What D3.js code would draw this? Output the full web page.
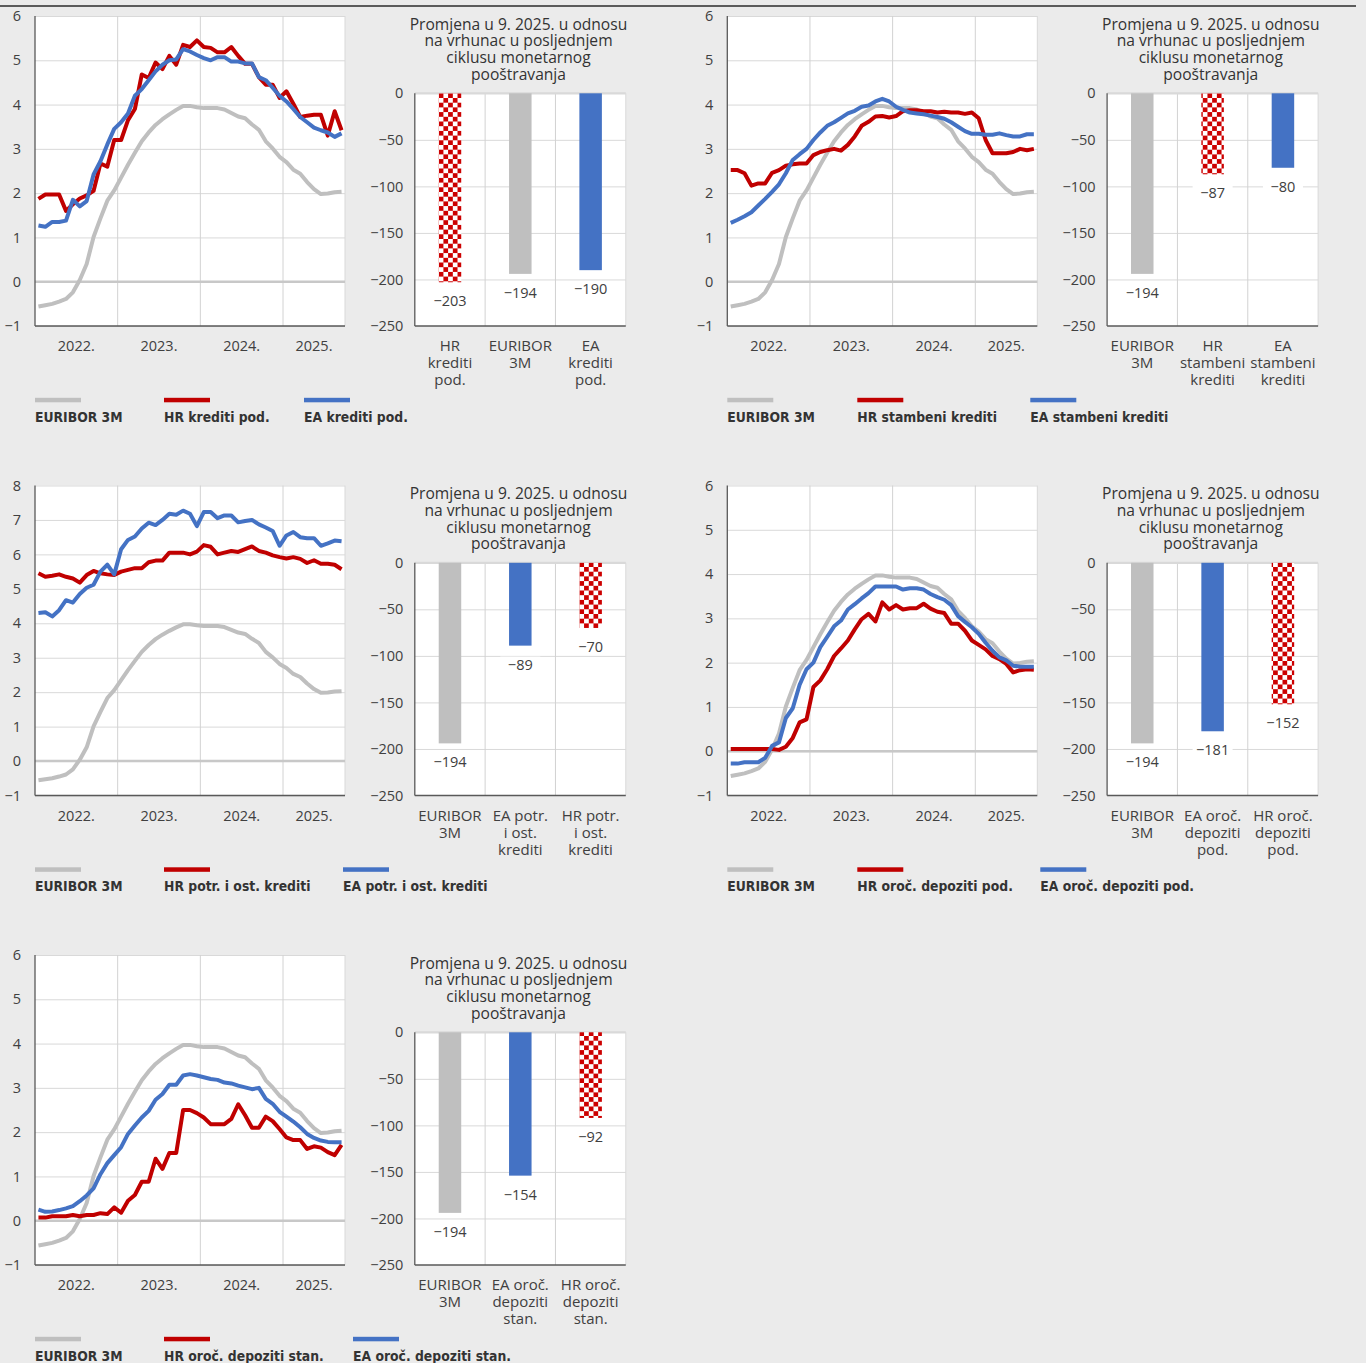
<!DOCTYPE html>
<html>
<head>
<meta charset="utf-8">
<script src="https://cdn.jsdelivr.net/npm/d3@7"></script>
<style>
  html, body { margin: 0; padding: 0; background: #ebebeb; }
  svg { display: block; }
  text { font-family: "Open Sans", "Noto Sans", sans-serif; fill: #404040; }
  .title { fill: #333; font-size: 15.6px; }
  .leg { font-family: "Liberation Sans Narrow", "DejaVu Sans Condensed", "Roboto Condensed", sans-serif; font-weight: bold; font-size: 13.8px; fill: #333; }
</style>
</head>
<body>
<script>
// Monthly observations, January 2022 – September 2025
const months = [
  "1/2022","2/2022","3/2022","4/2022","5/2022","6/2022","7/2022","8/2022","9/2022","10/2022","11/2022","12/2022",
  "1/2023","2/2023","3/2023","4/2023","5/2023","6/2023","7/2023","8/2023","9/2023","10/2023","11/2023","12/2023",
  "1/2024","2/2024","3/2024","4/2024","5/2024","6/2024","7/2024","8/2024","9/2024","10/2024","11/2024","12/2024",
  "1/2025","2/2025","3/2025","4/2025","5/2025","6/2025","7/2025","8/2025","9/2025"
];
const years = ["2022", "2023", "2024", "2025"];

// EURIBOR 3M (%), same in every panel
const euribor3m = [-0.56,-0.53,-0.50,-0.45,-0.39,-0.24,0.04,0.40,1.01,1.43,1.83,2.06,
  2.35,2.64,2.91,3.17,3.37,3.54,3.67,3.78,3.88,3.97,3.97,3.94,
  3.92,3.92,3.92,3.89,3.81,3.73,3.69,3.55,3.43,3.17,3.01,2.82,
  2.70,2.53,2.44,2.25,2.09,1.98,1.99,2.02,2.03];

// Loans to non-financial corporations (%)
const hrKreditiPod = [1.87,1.97,1.97,1.97,1.60,1.75,1.88,1.95,2.05,2.67,2.60,3.20,3.20,3.65,3.90,4.68,4.60,4.95,4.80,5.10,
  4.90,5.35,5.30,5.45,5.30,5.28,5.18,5.18,5.30,5.10,4.92,4.92,4.62,4.45,4.45,4.15,4.30,4.02,3.72,3.75,3.77,3.77,3.30,3.85,3.42];
const eaKreditiPod = [1.27,1.24,1.35,1.35,1.38,1.85,1.70,1.82,2.42,2.72,3.10,3.45,3.60,3.80,4.20,4.35,4.55,4.75,4.90,5.00,
  5.02,5.25,5.20,5.12,5.05,5.00,5.07,5.07,4.97,4.97,4.93,4.93,4.62,4.55,4.38,4.20,4.07,3.90,3.72,3.60,3.48,3.42,3.37,3.27,3.35];

// Housing loans (%)
const hrStambeni = [2.52,2.52,2.45,2.17,2.22,2.22,2.46,2.52,2.62,2.65,2.67,2.67,2.86,2.93,2.97,3.00,2.96,3.09,3.28,3.52,
  3.61,3.73,3.74,3.71,3.74,3.85,3.87,3.87,3.85,3.85,3.82,3.84,3.82,3.82,3.79,3.82,3.69,3.20,2.90,2.90,2.90,2.93,3.00,2.97,3.00];
const eaStambeni = [1.33,1.40,1.48,1.57,1.72,1.87,2.03,2.20,2.45,2.75,2.88,3.00,3.20,3.37,3.52,3.60,3.70,3.80,3.86,3.95,
  3.98,4.07,4.13,4.07,3.95,3.88,3.82,3.80,3.78,3.75,3.72,3.68,3.60,3.50,3.40,3.34,3.34,3.32,3.32,3.35,3.31,3.28,3.28,3.33,3.33];

// Consumer and other loans (%)
const hrPotr = [5.45,5.35,5.38,5.42,5.35,5.30,5.18,5.40,5.52,5.45,5.42,5.40,5.50,5.55,5.60,5.60,5.77,5.82,5.82,6.05,
  6.05,6.05,6.00,6.08,6.27,6.22,6.00,6.05,6.10,6.07,6.15,6.23,6.10,6.05,5.97,5.92,5.88,5.92,5.87,5.75,5.83,5.73,5.73,5.70,5.57];
const eaPotr = [4.30,4.32,4.20,4.38,4.67,4.60,4.85,5.03,5.12,5.50,5.70,5.42,6.15,6.42,6.52,6.75,6.92,6.85,7.00,7.18,
  7.15,7.27,7.18,6.82,7.23,7.23,7.05,7.13,7.13,6.93,6.97,7.00,6.87,6.78,6.68,6.25,6.55,6.65,6.50,6.47,6.47,6.25,6.32,6.40,6.38];

// Time deposits of non-financial corporations (%)
const hrOrocPod = [0.05,0.05,0.05,0.05,0.05,0.05,0.05,0.03,0.10,0.30,0.65,0.72,1.45,1.60,1.85,2.15,2.32,2.50,2.75,2.98,
  3.10,2.93,3.36,3.20,3.30,3.20,3.23,3.23,3.33,3.22,3.15,3.12,2.88,2.88,2.72,2.50,2.40,2.30,2.15,2.08,1.97,1.78,1.83,1.85,1.84];
const eaOrocPod = [-0.28,-0.28,-0.25,-0.25,-0.25,-0.15,0.12,0.20,0.75,0.97,1.50,1.85,2.00,2.35,2.58,2.82,2.95,3.20,3.32,3.45,
  3.57,3.72,3.72,3.72,3.72,3.65,3.68,3.68,3.65,3.55,3.48,3.42,3.30,3.05,2.92,2.80,2.65,2.45,2.27,2.12,2.05,1.93,1.91,1.91,1.91];

// Household time deposits (%)
const hrOrocStan = [0.07,0.07,0.10,0.10,0.10,0.13,0.10,0.13,0.13,0.17,0.15,0.30,0.18,0.45,0.58,0.88,0.88,1.40,1.17,1.53,
  1.53,2.50,2.50,2.43,2.33,2.18,2.18,2.18,2.30,2.63,2.38,2.10,2.10,2.35,2.25,2.07,1.88,1.82,1.82,1.62,1.68,1.65,1.55,1.48,1.71];
const eaOrocStan = [0.25,0.20,0.21,0.24,0.28,0.33,0.44,0.57,0.73,1.05,1.30,1.48,1.66,1.96,2.15,2.33,2.48,2.73,2.86,3.07,
  3.07,3.28,3.31,3.28,3.24,3.20,3.18,3.12,3.10,3.05,3.01,2.97,3.00,2.75,2.64,2.46,2.35,2.24,2.11,1.96,1.87,1.81,1.78,1.77,1.77];

// Change from the cycle peak to September 2025 (basis points)
const catsKrediti = ["HR\nkrediti\npod.", "EURIBOR\n3M", "EA\nkrediti\npod."];
const barsKrediti = [-203, -194, -190];
const catsStambeni = ["EURIBOR\n3M", "HR\nstambeni\nkrediti", "EA\nstambeni\nkrediti"];
const barsStambeni = [-194, -87, -80];
const catsPotr = ["EURIBOR\n3M", "EA potr.\ni ost.\nkrediti", "HR potr.\ni ost.\nkrediti"];
const barsPotr = [-194, -89, -70];
const catsOrocPod = ["EURIBOR\n3M", "EA oroč.\ndepoziti\npod.", "HR oroč.\ndepoziti\npod."];
const barsOrocPod = [-194, -181, -152];
const catsOrocStan = ["EURIBOR\n3M", "EA oroč.\ndepoziti\nstan.", "HR oroč.\ndepoziti\nstan."];
const barsOrocStan = [-194, -154, -92];

const barTicks = [0, -50, -100, -150, -200, -250];
const titleLines = ["Promjena u 9. 2025. u odnosu", "na vrhunac u posljednjem", "ciklusu monetarnog", "pooštravanja"];

const legendKrediti = ["EURIBOR 3M", "HR krediti pod.", "EA krediti pod."];
const legendStambeni = ["EURIBOR 3M", "HR stambeni krediti", "EA stambeni krediti"];
const legendPotr = ["EURIBOR 3M", "HR potr. i ost. krediti", "EA potr. i ost. krediti"];
const legendOrocPod = ["EURIBOR 3M", "HR oroč. depoziti pod.", "EA oroč. depoziti pod."];
const legendOrocStan = ["EURIBOR 3M", "HR oroč. depoziti stan.", "EA oroč. depoziti stan."];

// ---------------------------------------------------------------------------
const COL = { eur: "#bfbfbf", hr: "#c00000", ea: "#4472c4", chk: "#cc0000" };
const GRID = "#d9d9d9", AXIS = "#595959";

const panels = [
  { col: 0, row: 0, yMax: 6, hr: hrKreditiPod, ea: eaKreditiPod, legend: legendKrediti, legendX: [35, 164, 304],
    cats: catsKrediti, vals: barsKrediti, kinds: ["hr", "eur", "ea"] },
  { col: 1, row: 0, yMax: 6, hr: hrStambeni, ea: eaStambeni, legend: legendStambeni, legendX: [35, 165, 338],
    cats: catsStambeni, vals: barsStambeni, kinds: ["eur", "hr", "ea"] },
  { col: 0, row: 1, yMax: 8, hr: hrPotr, ea: eaPotr, legend: legendPotr, legendX: [35, 164, 343],
    cats: catsPotr, vals: barsPotr, kinds: ["eur", "ea", "hr"] },
  { col: 1, row: 1, yMax: 6, hr: hrOrocPod, ea: eaOrocPod, legend: legendOrocPod, legendX: [35, 165, 348],
    cats: catsOrocPod, vals: barsOrocPod, kinds: ["eur", "ea", "hr"] },
  { col: 0, row: 2, yMax: 6, hr: hrOrocStan, ea: eaOrocStan, legend: legendOrocStan, legendX: [35, 164, 353],
    cats: catsOrocStan, vals: barsOrocStan, kinds: ["eur", "ea", "hr"] }
];
const colX = [0, 692.3];
const rowY = [0, 469.5, 939];

const svg = d3.select("body").append("svg").attr("width", 1366).attr("height", 1363);
svg.append("rect").attr("width", 1366).attr("height", 1363).attr("fill", "#ebebeb");
svg.append("line").attr("x1", 0).attr("x2", 1356).attr("y1", 6).attr("y2", 6)
  .attr("stroke", "#2b2b2b").attr("stroke-width", 1.3);
const defs = svg.append("defs");

function lineChart(g, p) {
  const L = 35, R = 345, T = 16, B = 326;
  const x = d3.scaleBand().domain(months).range([L, R]);
  const y = d3.scaleLinear().domain([-1, p.yMax]).range([B, T]);
  const bw = x.bandwidth();

  g.append("rect").attr("x", L).attr("y", T).attr("width", R - L).attr("height", B - T).attr("fill", "#fff");

  // horizontal grid
  g.append("g").attr("transform", `translate(${L},0)`)
    .call(d3.axisLeft(y).tickValues(d3.range(-1, p.yMax + 1)).tickSize(-(R - L)).tickFormat(""))
    .call(s => { s.select(".domain").remove(); s.selectAll("line").attr("stroke", GRID); });

  // year separators
  const starts = months.filter(m => m.startsWith("1/") && m !== months[0]);
  g.selectAll(".vgrid").data(starts).join("line")
    .attr("x1", d => x(d)).attr("x2", d => x(d)).attr("y1", T).attr("y2", B)
    .attr("stroke", "#d2d2d2");

  // frame
  g.append("line").attr("x1", R).attr("x2", R).attr("y1", T).attr("y2", B).attr("stroke", GRID);
  g.append("line").attr("x1", L).attr("x2", R).attr("y1", y(0)).attr("y2", y(0))
    .attr("stroke", "#c8c8c8").attr("stroke-width", 2.4);
  g.append("line").attr("x1", L).attr("x2", L).attr("y1", T).attr("y2", B).attr("stroke", AXIS).attr("stroke-width", 1.3);
  g.append("line").attr("x1", L).attr("x2", R).attr("y1", B).attr("y2", B).attr("stroke", AXIS).attr("stroke-width", 1.3);

  // y labels
  g.append("g").attr("transform", `translate(${L},0)`)
    .call(d3.axisLeft(y).tickValues(d3.range(-1, p.yMax + 1)).tickSize(0).tickPadding(14).tickFormat(d3.format("d")))
    .call(s => {
      s.select(".domain").remove();
      s.attr("font-family", null).attr("font-size", null);
      s.selectAll("text").attr("font-size", 14.5).attr("fill", "#404040");
    });

  // year labels
  years.forEach(yr => {
    const ms = months.filter(m => m.endsWith("/" + yr));
    const cx = (x(ms[0]) + x(ms[ms.length - 1]) + bw) / 2;
    g.append("text").attr("x", cx).attr("y", 351).attr("text-anchor", "middle")
      .attr("font-size", 14.5).attr("fill", "#333").text(yr + ".");
  });

  // series
  const line = d3.line().x((d, i) => x(months[i]) + bw / 2).y(d => y(d));
  [[euribor3m, COL.eur], [p.hr, COL.hr], [p.ea, COL.ea]].forEach(([data, c]) => {
    g.append("path").datum(data).attr("d", line).attr("fill", "none")
      .attr("stroke", c).attr("stroke-width", 4).attr("stroke-linejoin", "round");
  });
}

function barChart(g, p, idx, ox, oy) {
  const L = 414.8, R = 625.8, T = 93.3, B = 326;
  const x = d3.scaleBand().domain(p.cats).range([L, R]);
  const y = d3.scaleLinear().domain([-250, 0]).range([B, T]);
  const bw = x.bandwidth(), barW = 22.5, sq = 4.7;

  g.append("rect").attr("x", L).attr("y", T).attr("width", R - L).attr("height", B - T).attr("fill", "#fff");

  g.append("g").attr("transform", `translate(${L},0)`)
    .call(d3.axisLeft(y).tickValues(barTicks.slice(1, -1)).tickSize(-(R - L)).tickFormat(""))
    .call(s => { s.select(".domain").remove(); s.selectAll("line").attr("stroke", GRID); });

  g.selectAll(".vgrid").data(p.cats.slice(1)).join("line")
    .attr("x1", d => x(d)).attr("x2", d => x(d)).attr("y1", T).attr("y2", B).attr("stroke", "#d2d2d2");
  g.append("line").attr("x1", R).attr("x2", R).attr("y1", T).attr("y2", B).attr("stroke", GRID);
  g.append("line").attr("x1", L).attr("x2", R).attr("y1", T).attr("y2", T).attr("stroke", GRID).attr("stroke-width", 2.2);

  // bars
  p.cats.forEach((c, i) => {
    const v = p.vals[i], kind = p.kinds[i];
    const bx = x(c) + bw / 2 - barW / 2;
    let fill = COL[kind];
    if (kind === "hr") {
      const id = `chk${idx}`;
      const pat = defs.append("pattern").attr("id", id).attr("patternUnits", "userSpaceOnUse")
        .attr("x", ox + bx).attr("y", oy + y(0)).attr("width", 2 * sq).attr("height", 2 * sq);
      pat.append("rect").attr("width", 2 * sq).attr("height", 2 * sq).attr("fill", "#fff");
      pat.append("rect").attr("width", sq).attr("height", sq).attr("fill", COL.chk);
      pat.append("rect").attr("x", sq).attr("y", sq).attr("width", sq).attr("height", sq).attr("fill", COL.chk);
      fill = `url(#${id})`;
    }
    g.append("rect").attr("x", bx).attr("y", y(0)).attr("width", barW).attr("height", y(v) - y(0))
      .attr("fill", fill);
    const ly = y(v) + 19;
    g.append("rect").attr("x", bx + barW / 2 - 20).attr("y", ly - 8).attr("width", 40).attr("height", 16).attr("fill", "#fff");
    g.append("text").attr("x", bx + barW / 2).attr("y", ly).attr("dy", "0.35em").attr("text-anchor", "middle")
      .attr("font-size", 14.5).attr("fill", "#404040").text(d3.format("d")(v));
  });

  g.append("line").attr("x1", L).attr("x2", L).attr("y1", T).attr("y2", B).attr("stroke", AXIS).attr("stroke-width", 1.3);
  g.append("line").attr("x1", L).attr("x2", R).attr("y1", B).attr("y2", B).attr("stroke", AXIS).attr("stroke-width", 1.3);

  g.append("g").attr("transform", `translate(${L},0)`)
    .call(d3.axisLeft(y).tickValues(barTicks).tickSize(0).tickPadding(11.5).tickFormat(d3.format("d")))
    .call(s => {
      s.select(".domain").remove();
      s.attr("font-family", null).attr("font-size", null);
      s.selectAll("text").attr("font-size", 14.5).attr("fill", "#404040");
    });

  // category labels
  p.cats.forEach(c => {
    const t = g.append("text").attr("text-anchor", "middle").attr("font-size", 15).attr("fill", "#404040");
    c.split("\n").forEach((ln, k) => {
      t.append("tspan").attr("x", x(c) + bw / 2).attr("y", 351 + k * 17.2).text(ln);
    });
  });

  // title
  const tt = g.append("text").attr("class", "title").attr("text-anchor", "middle");
  titleLines.forEach((ln, k) => tt.append("tspan").attr("x", 518.5).attr("y", 29.5 + k * 16.8).text(ln));
}

function legend(g, p) {
  const colors = [COL.eur, COL.hr, COL.ea];
  p.legend.forEach((name, i) => {
    g.append("rect").attr("x", p.legendX[i]).attr("y", 397.8).attr("width", 46).attr("height", 4.5).attr("fill", colors[i]);
    g.append("text").attr("class", "leg").attr("x", p.legendX[i]).attr("y", 421.5).text(name);
  });
}

panels.forEach((p, idx) => {
  const ox = colX[p.col], oy = rowY[p.row];
  const g = svg.append("g").attr("transform", `translate(${ox},${oy})`);
  lineChart(g, p);
  barChart(g, p, idx, ox, oy);
  legend(g, p);
});
</script>
</body>
</html>
